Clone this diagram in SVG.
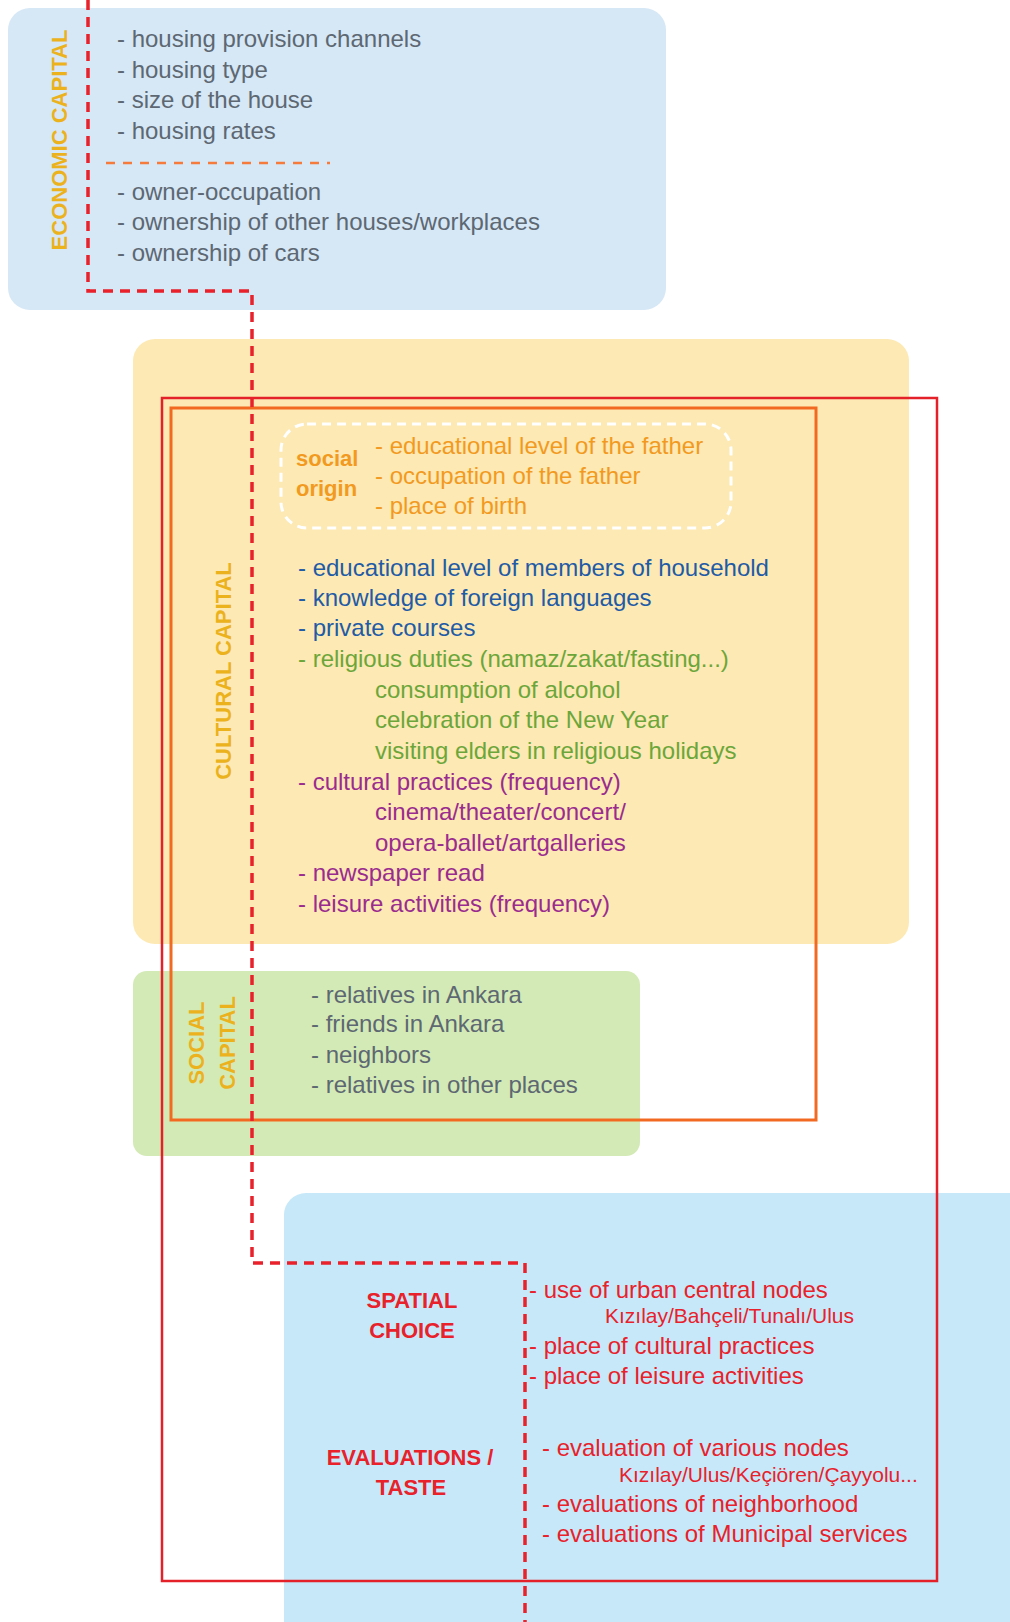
<svg xmlns="http://www.w3.org/2000/svg" width="1010" height="1622" viewBox="0 0 1010 1622">
  <style>
    text { font-family: "Liberation Sans", Arial, sans-serif; }
    .item { font-size: 24px; }
    .small { font-size: 21px; }
    .label { font-size: 22px; font-weight: bold; }
    .grey { fill: #5d6872; }
    .gold { fill: #ecb21e; }
    .orange { fill: #f29a1f; }
    .blue { fill: #1f5ba6; }
    .green { fill: #6ca63a; }
    .purple { fill: #9a2c8f; }
    .red { fill: #e8212b; }
    .frame { fill: none; }
  </style>

  <rect width="1010" height="1622" fill="#ffffff"/>

  <!-- economic capital -->
  <g id="economic-capital">
    <rect x="8" y="8" width="658" height="302" rx="22" fill="#d6e7f6"/>
    <text class="label gold" transform="translate(67,140) rotate(-90)" text-anchor="middle">ECONOMIC CAPITAL</text>
    <g class="item grey">
      <text x="117" y="47">- housing provision channels</text>
      <text x="117" y="78">- housing type</text>
      <text x="117" y="108">- size of the house</text>
      <text x="117" y="139">- housing rates</text>
      <text x="117" y="200">- owner-occupation</text>
      <text x="117" y="230">- ownership of other houses/workplaces</text>
      <text x="117" y="261">- ownership of cars</text>
    </g>
    <line x1="106" y1="163" x2="330" y2="163" stroke="#f47b3c" stroke-width="2.5" stroke-dasharray="9 8"/>
  </g>

  <!-- cultural capital -->
  <g id="cultural-capital">
    <rect x="133" y="339" width="776" height="605" rx="22" fill="#fde9b3"/>
    <text class="label gold" transform="translate(231,671) rotate(-90)" text-anchor="middle">CULTURAL CAPITAL</text>
    <g class="item">
      <text x="298" y="576" class="blue">- educational level of members of household</text>
      <text x="298" y="606" class="blue">- knowledge of foreign languages</text>
      <text x="298" y="636" class="blue">- private courses</text>
      <text x="298" y="667" class="green">- religious duties (namaz/zakat/fasting...)</text>
      <text x="375" y="698" class="green">consumption of alcohol</text>
      <text x="375" y="728" class="green">celebration of the New Year</text>
      <text x="375" y="759" class="green">visiting elders in religious holidays</text>
      <text x="298" y="790" class="purple">- cultural practices (frequency)</text>
      <text x="375" y="820" class="purple">cinema/theater/concert/</text>
      <text x="375" y="851" class="purple">opera-ballet/artgalleries</text>
      <text x="298" y="881" class="purple">- newspaper read</text>
      <text x="298" y="912" class="purple">- leisure activities (frequency)</text>
    </g>
  </g>

  <!-- social origin (inside cultural capital) -->
  <g id="social-origin">
    <rect x="281" y="424" width="450" height="104" rx="26" fill="none" stroke="#ffffff" stroke-width="3" stroke-dasharray="9 6"/>
    <text x="296" y="466" class="label orange">social</text>
    <text x="296" y="496" class="label orange">origin</text>
    <g class="item orange">
      <text x="375" y="454">- educational level of the father</text>
      <text x="375" y="484">- occupation of the father</text>
      <text x="375" y="514">- place of birth</text>
    </g>
  </g>

  <!-- social capital -->
  <g id="social-capital">
    <rect x="133" y="971" width="507" height="185" rx="14" fill="#d4eab6"/>
    <text class="label gold" transform="translate(204,1043) rotate(-90)" text-anchor="middle">SOCIAL</text>
    <text class="label gold" transform="translate(235,1043) rotate(-90)" text-anchor="middle">CAPITAL</text>
    <g class="item grey">
      <text x="311" y="1003">- relatives in Ankara</text>
      <text x="311" y="1032">- friends in Ankara</text>
      <text x="311" y="1063">- neighbors</text>
      <text x="311" y="1093">- relatives in other places</text>
    </g>
  </g>

  <!-- spatial choice / evaluations -->
  <g id="spatial-choice">
    <rect x="284" y="1193" width="760" height="460" rx="22" fill="#c6e8f9"/>
    <g class="label red" text-anchor="middle">
      <text x="412" y="1308">SPATIAL</text>
      <text x="412" y="1338">CHOICE</text>
      <text x="410" y="1465">EVALUATIONS /</text>
      <text x="411" y="1495">TASTE</text>
    </g>
    <g class="red">
      <text x="529" y="1298" class="item">- use of urban central nodes</text>
      <text x="605" y="1323" class="small">Kızılay/Bahçeli/Tunalı/Ulus</text>
      <text x="529" y="1354" class="item">- place of cultural practices</text>
      <text x="529" y="1384" class="item">- place of leisure activities</text>
      <text x="542" y="1456" class="item">- evaluation of various nodes</text>
      <text x="619" y="1482" class="small">Kızılay/Ulus/Keçiören/Çayyolu...</text>
      <text x="542" y="1512" class="item">- evaluations of neighborhood</text>
      <text x="542" y="1542" class="item">- evaluations of Municipal services</text>
    </g>
  </g>

  <!-- enclosing frames -->
  <g id="frame-red">
    <rect x="162" y="398" width="775" height="1183" class="frame" stroke="#e42129" stroke-width="2.5"/>
  </g>
  <g id="frame-orange">
    <rect x="171" y="408" width="645" height="712" class="frame" stroke="#f26a22" stroke-width="3"/>
  </g>

  <!-- connectors -->
  <g id="connectors">
    <path d="M88,0 V291 H252 V1263 H525 V1622" fill="none" stroke="#e8212b" stroke-width="3.5" stroke-dasharray="10 7"/>
  </g>
</svg>
